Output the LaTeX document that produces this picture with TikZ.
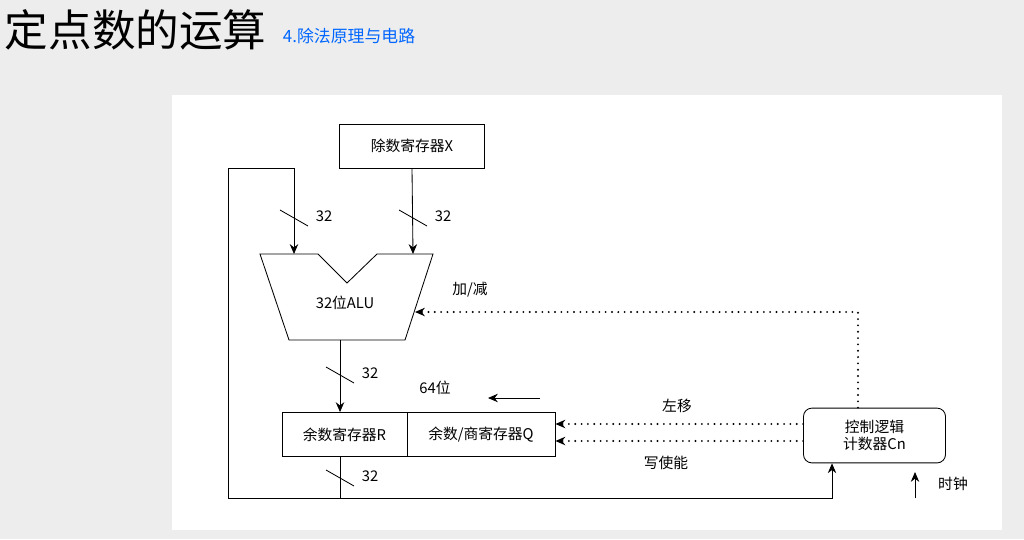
\documentclass[tikz,border=0pt]{standalone}
\usepackage{fontspec}
\setmainfont{Noto Sans CJK SC}
\usetikzlibrary{arrows.meta,positioning}

\begin{document}
\begin{tikzpicture}[x=0.025cm, y=-0.025cm, font=\fontsize{10.5}{12}\selectfont,
    reg/.style = {draw, semithick, minimum height=1.1cm, inner sep=0pt},
    ctrl/.style = {draw, semithick, rounded corners=6pt, minimum width=3.55cm, minimum height=1.37cm, align=center},
    wire/.style = {-{Stealth[length=7pt,width=6pt]}, semithick},
    ctl/.style = {-{Stealth[length=7pt,width=6pt]}, line width=1.5pt, dash pattern=on 0pt off 4.5pt, line cap=round}]
    \fill[black!7] (0,0) rectangle (1024,539);
    \fill[white] (172,95) rectangle (1002,530);
    \node[anchor=west, font=\fontsize{31}{33}\selectfont] (title) at (0,30) {定点数的运算};
    \node[anchor=west, text=blue!60!cyan, font=\fontsize{12}{14}\selectfont] (sub) at (278,36) {4.除法原理与电路};
        \node[reg, minimum width=3.62cm] (X) at (412,146) {除数寄存器X};
        \draw[semithick] (260,254) -- (318,254) -- (347,283) -- (377,254) -- (433,254)
            -- (405,340) -- (289,340) -- cycle;
        \node (alu) at (345,303) {32位ALU};
        \coordinate (aluL) at (294,254);
        \coordinate (aluR) at (413,254);
        \coordinate (aluB) at (340,340);
        \coordinate (aluS) at (415,312);
        \node[reg, minimum width=3.12cm] (R) at (344.5,434.5) {余数寄存器R};
        \node[reg, minimum width=3.7cm] (Q) at (481,434.5) {余数/商寄存器Q};
        \node[ctrl] (C) at (874.5,435.5) {控制逻辑\\计数器Cn};
        \coordinate (top) at (294,168);
        \coordinate (bot) at (340,498);
        \coordinate (clk) at (915,498);
        % data paths
        \draw[wire] (X.south) -- (aluR);
        \draw[wire] (bot) -- (228,498) -- (228,168) -- (top) -- (aluL);
        \draw[semithick] (R.south -| bot) -- (bot);
        \draw[wire] (bot) -- (832,498) -- (C.south -| 832,0);
        \draw[wire] (aluB) -- (R.north -| aluB);
        \draw[wire] (clk) -- (915,472);
        \node (clkl) at (953,484) {时钟};
        % bus widths
        \foreach \x/\y in {294/218, 413/218, 340/375, 340/478} {
            \draw[semithick] (\x-14,\y-8) -- (\x+14,\y+8);
            \node[right] at (\x+17,\y-2) {32};
        }
        \node (w) at (435,388) {64位};
        \draw[wire] (540,398) -- (488,398);
        % control signals
        \draw[ctl] (C.north -| 858,0) -- (858,312) -- (aluS);
        \node (as) at (470,290) {加/减};
        \draw[ctl] (C.west |- 0,424) -- (Q.east |- 0,424);
        \draw[ctl] (C.west |- 0,441) -- (Q.east |- 0,441);
        \node (sh) at (677,406) {左移};
        \node (we) at (666,463) {写使能};
\end{tikzpicture}
\end{document}
